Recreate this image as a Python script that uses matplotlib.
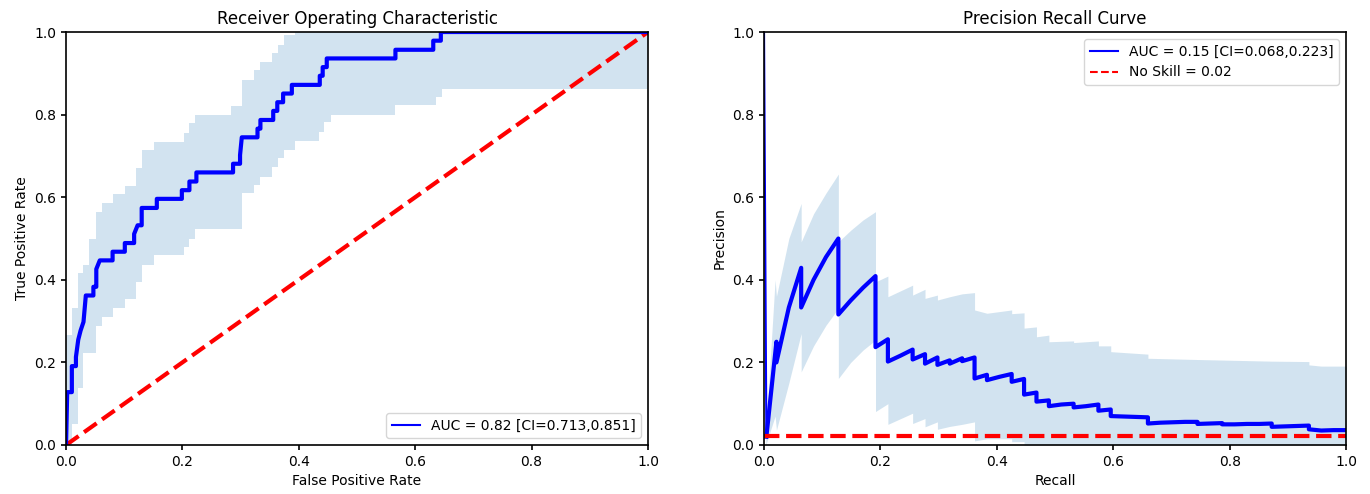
#Grafico ROC + Precision-Recall
import numpy as np
import matplotlib
matplotlib.use("Agg")
import matplotlib.pyplot as plt

# Curva ROC (fpr, tpr)
roc_fpr = [0.000, 0.002, 0.010, 0.010, 0.017, 0.017, 0.021, 0.025, 0.030, 0.034,
           0.047, 0.047, 0.052, 0.052, 0.058, 0.080, 0.080, 0.101, 0.101, 0.117,
           0.117, 0.123, 0.130, 0.130, 0.156, 0.156, 0.199, 0.199, 0.212, 0.212,
           0.224, 0.224, 0.287, 0.287, 0.299, 0.299, 0.302, 0.329, 0.329, 0.334,
           0.334, 0.356, 0.356, 0.363, 0.363, 0.373, 0.373, 0.388, 0.388, 0.436,
           0.436, 0.441, 0.441, 0.448, 0.448, 0.566, 0.566, 0.631, 0.631, 0.644,
           0.644, 1.000]
roc_tpr = [0.000, 0.128, 0.128, 0.191, 0.191, 0.213, 0.255, 0.277, 0.298, 0.362,
           0.362, 0.383, 0.383, 0.426, 0.447, 0.447, 0.468, 0.468, 0.489, 0.489,
           0.511, 0.532, 0.532, 0.574, 0.574, 0.596, 0.596, 0.617, 0.617, 0.638,
           0.638, 0.660, 0.660, 0.681, 0.681, 0.702, 0.745, 0.745, 0.766, 0.766,
           0.787, 0.787, 0.809, 0.809, 0.830, 0.830, 0.851, 0.851, 0.872, 0.872,
           0.894, 0.894, 0.915, 0.915, 0.936, 0.936, 0.957, 0.957, 0.979, 0.979,
           1.000, 1.000]

# Intervalo de confianca ROC (degraus)
band_fpr = [0.000, 0.010, 0.020, 0.030, 0.040, 0.051, 0.061, 0.081, 0.101, 0.121,
            0.131, 0.152, 0.202, 0.212, 0.222, 0.283, 0.303, 0.323, 0.333, 0.354,
            0.364, 0.374, 0.394, 0.434, 0.444, 0.455, 0.566, 0.636, 0.646, 1.000]
band_lo = [0.000, 0.052, 0.137, 0.222, 0.222, 0.288, 0.311, 0.331, 0.353, 0.395,
           0.436, 0.460, 0.480, 0.500, 0.524, 0.524, 0.609, 0.630, 0.650, 0.674,
           0.694, 0.714, 0.737, 0.759, 0.783, 0.800, 0.823, 0.843, 0.863, 0.863]
band_hi = [0.266, 0.331, 0.416, 0.436, 0.500, 0.565, 0.587, 0.608, 0.628, 0.670,
           0.714, 0.734, 0.756, 0.779, 0.799, 0.821, 0.884, 0.908, 0.928, 0.948,
           0.969, 0.993, 1.000, 1.000, 1.000, 1.000, 1.000, 1.000, 1.000, 1.000]

# Curva Precision-Recall
pr_rec = [0.004, 0.0213, 0.0213, 0.0426, 0.0638, 0.0638, 0.0851, 0.1064, 0.1277, 0.1277,
          0.1489, 0.1702, 0.1915, 0.1915, 0.2128, 0.2128, 0.2340, 0.2553, 0.2553, 0.2766,
          0.2766, 0.2979, 0.2979, 0.3191, 0.3191, 0.3404, 0.3404, 0.3617, 0.3617, 0.3830,
          0.3830, 0.4043, 0.4255, 0.4255, 0.4468, 0.4468, 0.4681, 0.4681, 0.4894, 0.4894,
          0.5106, 0.5319, 0.5319, 0.5532, 0.5745, 0.5745, 0.5957, 0.5957, 0.6170, 0.6383,
          0.6596, 0.6596, 0.6809, 0.7021, 0.7234, 0.7447, 0.7447, 0.7660, 0.7872, 0.7872,
          0.8085, 0.8298, 0.8511, 0.8723, 0.8723, 0.8936, 0.9149, 0.9362, 0.9362, 0.9574,
          0.9787, 1.0000]
pr_prec = [0.020, 0.250, 0.200, 0.333, 0.429, 0.333, 0.400, 0.455, 0.500, 0.316,
           0.350, 0.381, 0.409, 0.237, 0.256, 0.202, 0.216, 0.231, 0.207, 0.220,
           0.197, 0.212, 0.194, 0.205, 0.197, 0.210, 0.203, 0.212, 0.161, 0.170,
           0.157, 0.165, 0.172, 0.153, 0.160, 0.122, 0.127, 0.105, 0.108, 0.094,
           0.098, 0.100, 0.091, 0.094, 0.098, 0.083, 0.086, 0.070, 0.069, 0.068,
           0.067, 0.052, 0.054, 0.055, 0.056, 0.056, 0.051, 0.052, 0.053, 0.050,
           0.050, 0.051, 0.051, 0.052, 0.044, 0.045, 0.046, 0.047, 0.038, 0.035,
           0.036, 0.036]

# Intervalo de confianca PR
prb_rec = [0.003, 0.019, 0.0213, 0.0426, 0.0638, 0.0638, 0.0851, 0.1064, 0.1277, 0.1277,
           0.1489, 0.1702, 0.1915, 0.1915, 0.2128, 0.2128, 0.2553, 0.2553, 0.2766, 0.2766,
           0.2979, 0.2979, 0.3191, 0.3404, 0.3617, 0.3617, 0.3830, 0.4255, 0.4255, 0.4468,
           0.4468, 0.4681, 0.4681, 0.4894, 0.4894, 0.5319, 0.5319, 0.5745, 0.5745, 0.5957,
           0.5957, 0.6596, 0.6596, 0.7447, 0.8723, 0.9362, 0.9362, 0.9574, 1.0000]
prb_lo = [0.000, 0.070, 0.036, 0.150, 0.270, 0.177, 0.240, 0.290, 0.331, 0.161,
          0.200, 0.230, 0.254, 0.081, 0.100, 0.050, 0.077, 0.052, 0.064, 0.044,
          0.056, 0.038, 0.045, 0.050, 0.056, 0.010, 0.015, 0.015, 0.008, 0.008,
          0.000, 0.000, 0.000, 0.000, 0.000, 0.000, 0.000, 0.000, 0.000, 0.000,
          0.000, 0.000, 0.000, 0.000, 0.000, 0.000, 0.000, 0.000, 0.000]
prb_hi = [0.030, 0.400, 0.360, 0.500, 0.585, 0.492, 0.560, 0.610, 0.656, 0.492,
          0.520, 0.545, 0.565, 0.395, 0.409, 0.359, 0.387, 0.363, 0.377, 0.355,
          0.363, 0.351, 0.359, 0.366, 0.369, 0.327, 0.319, 0.327, 0.318, 0.320,
          0.283, 0.286, 0.262, 0.266, 0.250, 0.252, 0.248, 0.252, 0.240, 0.240,
          0.226, 0.220, 0.210, 0.207, 0.203, 0.202, 0.194, 0.191, 0.191]

no_skill = 0.0225

roc_label = "AUC = 0.82 [CI=0.713,0.851]"
pr_label = "AUC = 0.15 [CI=0.068,0.223]"
ns_label = "No Skill = 0.02"

fig = plt.figure(figsize=(13.7, 4.94), dpi=100)
ax1 = fig.add_axes([0.0482, 0.0992, 0.4248, 0.836])
ax2 = fig.add_axes([0.5577, 0.0992, 0.4248, 0.836])

# ROC
ax1.fill_between(band_fpr, band_lo, band_hi, step='post', color='C0', alpha=0.2, lw=0)
ax1.plot([0, 1], [0, 1], 'r--', lw=3)
ax1.plot(roc_fpr, roc_tpr, color='blue', lw=3)
ax1.plot([], [], color='blue', lw=1.5, label=roc_label)
ax1.set_xlim(0, 1)
ax1.set_ylim(0, 1)
ax1.set_title("Receiver Operating Characteristic", fontsize=12)
ax1.set_xlabel("False Positive Rate")
ax1.set_ylabel("True Positive Rate")
ax1.legend(loc='lower right')

# Precision-Recall
ax2.fill_between(prb_rec, prb_lo, prb_hi, color='C0', alpha=0.2, lw=0)
ax2.plot([0.0] + pr_rec, [1.0] + pr_prec, color='blue', lw=1.5, label=pr_label)
ax2.plot(pr_rec, pr_prec, color='blue', lw=3)
ax2.plot([0, 1], [no_skill, no_skill], 'r--', lw=3, label=ns_label)
ax2.set_xlim(0, 1)
ax2.set_ylim(0, 1)
ax2.set_title("Precision Recall Curve", fontsize=12)
ax2.set_xlabel("Recall")
ax2.set_ylabel("Precision")
leg = ax2.legend(loc='upper right')
leg.get_lines()[1].set_linewidth(1.5)

for ax in (ax1, ax2):
    for s in ax.spines.values():
        s.set_linewidth(1.2)
    ax.tick_params(width=1.2)

#Salvar o arquivo
plt.savefig("out.png", dpi=100)
